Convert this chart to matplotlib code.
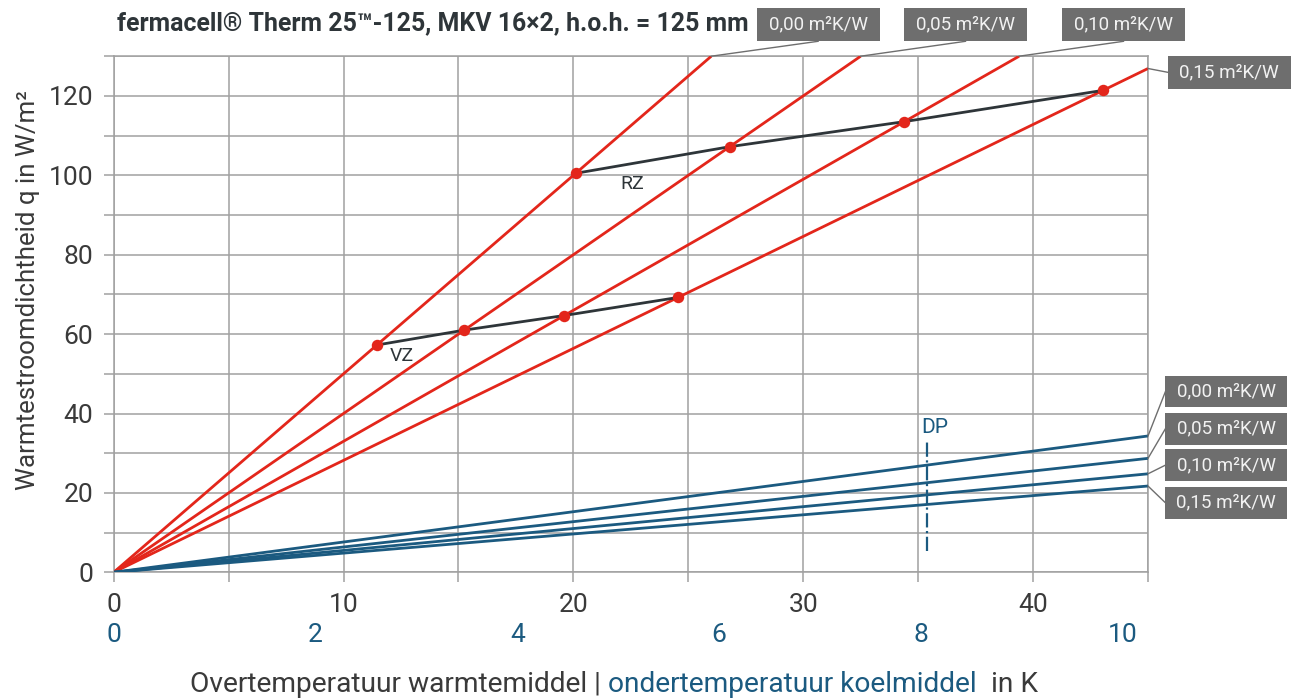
import matplotlib
matplotlib.use("Agg")
import matplotlib.pyplot as plt
import numpy as np
from matplotlib.lines import Line2D
from matplotlib.patches import Rectangle
from matplotlib.transforms import IdentityTransform

# ---- data -------------------------------------------------------------
resistances = ["0,00 m²K/W", "0,05 m²K/W", "0,10 m²K/W", "0,15 m²K/W"]
# heating: heat flux per K over-temperature (W/m²K)
heat_slopes = [5.00, 4.00, 3.30, 2.82]
# cooling: heat flux per K under-temperature (W/m²K)
cool_slopes = [3.35, 2.80, 2.42, 2.12]
# supply (VZ) and return (RZ) operating points on the heating lines
vz_x = [11.45, 15.25, 19.60, 24.55]
rz_x = [20.10, 26.80, 34.40, 43.05]
# dew point limit (cooling K) and its vertical extent
dp_cool = 8.06
dp_q = [5.3, 33.6]

x_ticks = [0, 10, 20, 30, 40]
y_ticks = [0, 20, 40, 60, 80, 100, 120]
cool_ticks = [0, 2, 4, 6, 8, 10]
X_MAX, Y_MAX = 45, 130
COOL_PER_HEAT = 4.39          # heating-axis K per cooling-axis K

# ---- style ------------------------------------------------------------
FONT = ["Roboto", "DejaVu Sans"]
plt.rcParams["font.family"] = FONT
RED = "#e3261b"
BLUE = "#1b5a80"
DARK = "#2e3539"
GRID = "#a0a0a0"
BOX = "#6e6e6e"
TXT = "#3a3a3a"

W, H = 1291, 698
fig = plt.figure(figsize=(W / 100, H / 100), dpi=100)
ax = fig.add_axes([113.7 / W, 1 - 572.3 / H, (1148 - 113.7) / W, (572.3 - 56.2) / H])
ax.set_xlim(0, X_MAX)
ax.set_ylim(0, Y_MAX)

ax.set_xticks(np.arange(0, X_MAX + 0.1, 5))
ax.set_yticks(np.arange(0, Y_MAX + 0.1, 10))
ax.set_xticklabels([str(int(v)) if v in x_ticks else "" for v in np.arange(0, X_MAX + 0.1, 5)])
ax.set_yticklabels([str(int(v)) if v in y_ticks else "" for v in np.arange(0, Y_MAX + 0.1, 10)])
ax.grid(True, color=GRID, lw=1.1)
ax.set_axisbelow(True)
for s in ax.spines.values():
    s.set_color(GRID)
    s.set_linewidth(1.1)
ax.tick_params(axis="both", colors=GRID, length=7.2, width=1.1, labelcolor=TXT,
               labelsize=19)
ax.tick_params(axis="x", pad=8)
ax.tick_params(axis="y", pad=7.5)

# cooling scale labels below the heating scale
for c in cool_ticks:
    ax.text(c * COOL_PER_HEAT, -15.7, str(c), color=BLUE, fontsize=19,
            ha="center", va="center", clip_on=False)

# heating lines
red_ends = []
for k in heat_slopes:
    xe = min(X_MAX, Y_MAX / k)
    ax.plot([0, xe], [0, k * xe], color=RED, lw=2, solid_capstyle="butt", zorder=3)
    red_ends.append((xe, k * xe))

# cooling lines
cool_max = X_MAX / COOL_PER_HEAT
blue_ends = []
for k in cool_slopes:
    ax.plot([0, X_MAX], [0, k * cool_max], color=BLUE, lw=2, zorder=3)
    blue_ends.append((X_MAX, k * cool_max))

# VZ / RZ curves
vz_q = [k * x for k, x in zip(heat_slopes, vz_x)]
rz_q = [k * x for k, x in zip(heat_slopes, rz_x)]
ax.plot(vz_x, vz_q, color=DARK, lw=2, zorder=4)
ax.plot(rz_x, rz_q, color=DARK, lw=2, zorder=4)
ax.scatter(vz_x + rz_x, vz_q + rz_q, s=68, color=RED, zorder=5, linewidths=0)
ax.text(vz_x[0] + 0.55, vz_q[0] - 0.6, "VZ", color=DARK, fontsize=14, ha="left", va="top")
ax.text(rz_x[0] + 1.95, rz_q[0] - 0.3, "RZ", color=DARK, fontsize=14, ha="left", va="top")

# dew point
ax.plot([dp_cool * COOL_PER_HEAT] * 2, dp_q, color=BLUE, lw=1.6, ls="-.", zorder=3)
ax.text(dp_cool * COOL_PER_HEAT - 0.25, dp_q[1] + 0.6, "DP", color=BLUE, fontsize=15,
        ha="left", va="bottom")

fig.canvas.draw()
renderer = fig.canvas.get_renderer()


def fit_width(t, target):
    """Scale a text's font size so its rendered width equals target pixels."""
    for _ in range(3):
        w = t.get_window_extent(renderer).width
        t.set_fontsize(t.get_fontsize() * target / w)
    return t


def fit_height(t, target):
    for _ in range(3):
        h = t.get_window_extent(renderer).height
        t.set_fontsize(t.get_fontsize() * target / h)
    return t


# ---- labelled boxes with leader lines ---------------------------------
def px(x, y_top):
    return x, H - y_top


def box(x0, y0, w, h, label):
    fig.add_artist(Rectangle(px(x0, y0 + h), w, h, transform=IdentityTransform(),
                             facecolor=BOX, edgecolor="none"))
    t = fig.text((x0 + w / 2) / W, 1 - (y0 + h / 2) / H, label, color="#f2f2f2",
                 fontsize=14, ha="center", va="center")
    fit_width(t, 100)


def leader(data_pt, fig_pt):
    d = ax.transData.transform(data_pt)
    fx, fy = px(*fig_pt)
    fig.add_artist(Line2D([d[0], fx], [d[1], fy], transform=IdentityTransform(),
                          color=BOX, lw=1.0))


top_boxes = [(756.6, 7.8), (904.0, 7.8), (1062.0, 7.8), (1167.5, 55.5)]
BW, BH = 123, 33.5
for i, ((bx, by), lab) in enumerate(zip(top_boxes, resistances)):
    box(bx, by, BW, BH, lab)
    if i < 3:
        leader(red_ends[i], (bx + BW / 2, by + BH))
    else:
        leader(red_ends[i], (bx, by + BH / 2))

bot_boxes = [(1165.4, 375.9), (1165.4, 413.0), (1165.4, 449.4), (1165.4, 487.0)]
BW2, BH2 = 121.5, 31.5
for (bx, by), lab, end in zip(bot_boxes, resistances, blue_ends):
    box(bx, by, BW2, BH2, lab)
    leader(end, (bx, by + BH2 / 2))

# ---- titles -----------------------------------------------------------
title = fig.text(117 / W, 1 - 23 / H, "fermacell® Therm 25™-125, MKV 16×2, h.o.h. = 125 mm",
                 color=DARK, fontsize=19, fontweight="bold", ha="left", va="center")
fit_width(title, 633)

ylab = fig.text(28 / W, 1 - 290 / H, "Warmtestroomdichtheid q in W/m²", color=TXT,
                fontsize=18, rotation=90, ha="center", va="center")
fit_height(ylab, 400)

# x label in two colours
parts = [("Overtemperatuur warmtemiddel | ", TXT), ("ondertemperatuur koelmiddel", BLUE),
         ("  in K", TXT)]
texts = []
for s, col in parts:
    texts.append(fig.text(0, 1 - 685 / H, s, color=col, fontsize=19, ha="left", va="center"))
total = sum(t.get_window_extent(renderer).width for t in texts)
size = texts[0].get_fontsize() * 848 / total
for t in texts:
    t.set_fontsize(size)
widths = [t.get_window_extent(renderer).width for t in texts]
x0 = 614 - sum(widths) / 2
for t, w in zip(texts, widths):
    t.set_x(x0 / W)
    x0 += w

fig.savefig("out.png", dpi=100)
